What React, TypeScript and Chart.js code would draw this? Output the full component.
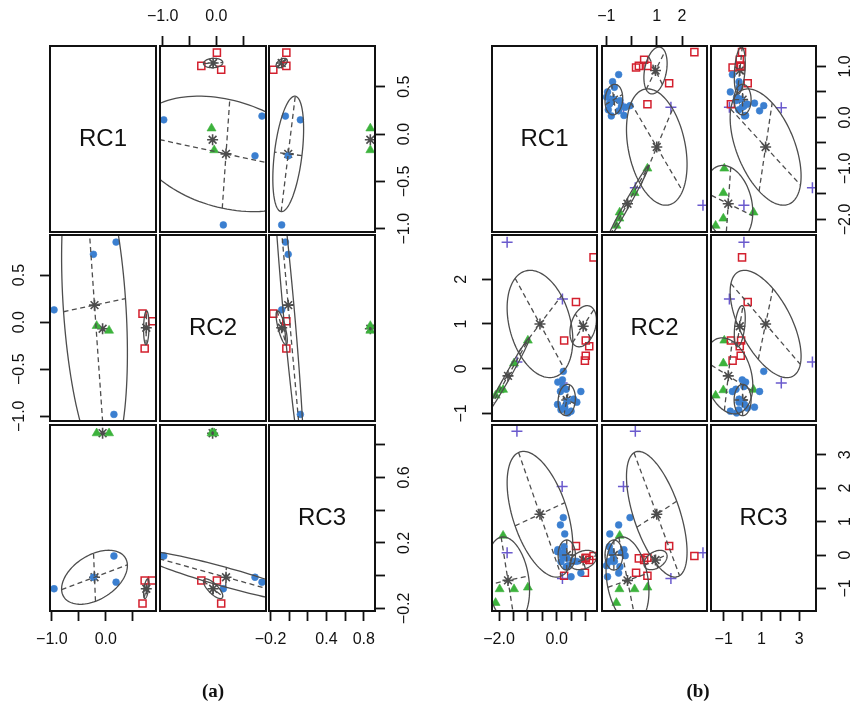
import React, { useEffect, useRef } from 'react';
import { Chart, registerables } from 'chart.js';

Chart.register(...registerables);

const FONT_FAMILY = '"Liberation Sans", Arial, Helvetica, sans-serif';
Chart.defaults.font.family = FONT_FAMILY;

const M = 40; // margin around each panel inside its canvas
const GREY = '#4d4d4d';
const INK = '#111111';
const TICK_FONT = 16;
const TICK_LEN = 10;
const LABEL_DIST_X = 29;
const LABEL_DIST_Y = 30;

const VAR_NAMES = ['RC1', 'RC2', 'RC3'];

// ---------------- Plot (a) ----------------
const A_RANGE_RC1 = [-1.035, 0.93];
const A_RANGE_RC2 = [-1.05, 0.925];
const A_RANGE_RC3 = [-0.216, 0.92];
const A_TICKS_RC1 = [-1.0, -0.5, 0.0, 0.5];
const A_TICKS_RC2 = [-1.0, -0.5, 0.0, 0.5];
const A_TICKS_RC3 = [-0.2, 0.0, 0.2, 0.4, 0.6, 0.8];
const A_XLAB_RC1 = ['−1.0', '', '0.0', ''];
const A_XLAB_RC2 = ['−1.0', '', '0.0', ''];
const A_XLAB_RC3 = ['−0.2', '', '', '0.4', '', '0.8'];
const A_YLAB_RC1 = ['−1.0', '−0.5', '0.0', '0.5'];
const A_YLAB_RC2 = ['−1.0', '−0.5', '0.0', '0.5'];
const A_YLAB_RC3 = ['−0.2', '', '0.2', '', '0.6', ''];

const A_BLUE_RC1 = [0.15, 0.19, -0.23, -0.96];
const A_BLUE_RC2 = [-0.98, 0.85, 0.72, 0.13];
const A_BLUE_RC3 = [0.12, -0.04, -0.01, -0.08];
const A_RED_RC1 = [0.86, 0.72, 0.68];
const A_RED_RC2 = [0.01, -0.28, 0.09];
const A_RED_RC3 = [-0.03, -0.03, -0.17];
const A_GREEN_RC1 = [0.06, -0.17];
const A_GREEN_RC2 = [-0.09, -0.04];
const A_GREEN_RC3 = [0.87, 0.87];

// component means / sds / correlations (r12, r13, r23)
const A_MEAN_BLUE = [-0.21, 0.18, -0.01];
const A_MEAN_RED = [0.75, -0.06, -0.08];
const A_MEAN_GREEN = [-0.06, -0.07, 0.87];
const A_SD_BLUE = [0.61, 1.7, 0.165];
const A_SD_RED = [0.05, 0.18, 0.06];
const A_SD_GREEN = [0.012, 0.012, 0.008];
const A_COR_BLUE = [-0.3, 0.43, -0.93];
const A_COR_RED = [0.1, 0.5, -0.75];
const A_COR_GREEN = [0, 0, 0];

// ---------------- Plot (b) ----------------
const B_RANGE_RC1 = [-2.245, 1.4];
const B_RANGE_RC2 = [-1.17, 2.99];
const B_RANGE_RC3 = [-1.675, 3.89];
const B_TICKS_RC1 = [-2.0, -1.5, -1.0, -0.5, 0.0, 0.5, 1.0];
const B_TICKS_RC2 = [-1, 0, 1, 2];
const B_TICKS_RC3 = [-1, 0, 1, 2, 3];
const B_XLAB_RC1 = ['−2.0', '', '', '', '0.0', '', ''];
const B_XLAB_RC2 = ['−1', '', '1', '2'];
const B_XLAB_RC3 = ['−1', '', '1', '', '3'];
const B_YLAB_RC1 = ['−2.0', '', '−1.0', '', '0.0', '', '1.0'];
const B_YLAB_RC2 = ['−1', '0', '1', '2'];
const B_YLAB_RC3 = ['−1', '0', '1', '2', '3'];

const B_BLUE_RC1 = [0.84, 0.7, 0.59, 0.4, 0.36, 0.28, 0.26, 0.13, 0.04, 0.2, 0.23, 0.22, 0.03, 0.33, 0.5, 0.15];
const B_BLUE_RC2 = [-0.51, -0.75, -0.68, -0.99, -0.73, -0.86, -0.88, -0.51, -0.3, -0.25, -0.06, -0.4, -0.8, -0.46, -0.95, -0.92];
const B_BLUE_RC3 = [-0.54, -0.19, -0.19, -0.32, -0.1, 0.63, 0.25, 0.9, 0.16, -0.02, 1.12, 0.07, 0.1, -0.35, -0.65, -0.2];
const B_RED_RC1 = [1.28, 1.13, 0.98, 1.01, 1.01, 0.67, 0.26];
const B_RED_RC2 = [2.49, 0.5, 0.18, 0.29, 0.63, 1.49, 0.63];
const B_RED_RC3 = [-0.03, -0.15, -0.53, -0.1, -0.08, 0.27, -0.62];
const B_GREEN_RC1 = [-1.0, -1.48, -1.86, -1.98, -2.12];
const B_GREEN_RC2 = [0.63, 0.12, -0.47, -0.48, -0.6];
const B_GREEN_RC3 = [-0.97, -1.02, 0.58, -1.02, -1.43];
const B_PURPLE_RC1 = [0.2, 0.19, -1.38, -1.72];
const B_PURPLE_RC2 = [1.56, -0.32, 0.15, 2.83];
const B_PURPLE_RC3 = [-0.7, 2.05, 3.7, 0.07];

const B_MEAN_BLUE = [0.35, -0.7, 0.0];
const B_MEAN_RED = [0.92, 0.95, -0.15];
const B_MEAN_GREEN = [-1.69, -0.16, -0.76];
const B_MEAN_PURPLE = [-0.58, 1.0, 1.22];
const B_SD_BLUE = [0.3, 0.35, 0.45];
const B_SD_RED = [0.46, 0.46, 0.29];
const B_SD_GREEN = [0.75, 0.85, 1.3];
const B_SD_PURPLE = [1.14, 1.2, 1.88];
const B_COR_BLUE = [0.1, 0.0, 0.0];
const B_COR_RED = [0.3, 0.3, 0.4];
const B_COR_GREEN = [0.99, -0.22, -0.25];
const B_COR_PURPLE = [-0.3, -0.5, -0.6];

// ---------------- styles ----------------
const STYLE_BLUE = { pointStyle: 'circle', radius: 3.4, color: '#3b7fd0', filled: true };
const STYLE_RED = { pointStyle: 'rect', radius: 5, color: '#d3202e', filled: false };
const STYLE_GREEN = { pointStyle: 'triangle', radius: 5.2, color: '#3cb23c', filled: true };
const STYLE_PURPLE = { pointStyle: 'cross', radius: 5.5, color: '#6a5acd', filled: false };

type Group = { rc: number[][]; mean: number[]; sd: number[]; cor: number[]; style: any };
type Matrix = {
  lefts: number[]; tops: number[]; w: number; h: number;
  ranges: number[][]; ticks: number[][]; xLabels: string[][]; yLabels: string[][];
  groups: Group[]; caption: string; captionX: number;
};

const MATRIX_A: Matrix = {
  lefts: [50, 160, 269], tops: [46, 235, 425], w: 106, h: 186,
  ranges: [A_RANGE_RC1, A_RANGE_RC2, A_RANGE_RC3],
  ticks: [A_TICKS_RC1, A_TICKS_RC2, A_TICKS_RC3],
  xLabels: [A_XLAB_RC1, A_XLAB_RC2, A_XLAB_RC3],
  yLabels: [A_YLAB_RC1, A_YLAB_RC2, A_YLAB_RC3],
  groups: [
    { rc: [A_BLUE_RC1, A_BLUE_RC2, A_BLUE_RC3], mean: A_MEAN_BLUE, sd: A_SD_BLUE, cor: A_COR_BLUE, style: STYLE_BLUE },
    { rc: [A_RED_RC1, A_RED_RC2, A_RED_RC3], mean: A_MEAN_RED, sd: A_SD_RED, cor: A_COR_RED, style: STYLE_RED },
    { rc: [A_GREEN_RC1, A_GREEN_RC2, A_GREEN_RC3], mean: A_MEAN_GREEN, sd: A_SD_GREEN, cor: A_COR_GREEN, style: STYLE_GREEN },
  ],
  caption: '(a)', captionX: 213,
};

const MATRIX_B: Matrix = {
  lefts: [492, 602, 711], tops: [46, 235, 425], w: 105, h: 186,
  ranges: [B_RANGE_RC1, B_RANGE_RC2, B_RANGE_RC3],
  ticks: [B_TICKS_RC1, B_TICKS_RC2, B_TICKS_RC3],
  xLabels: [B_XLAB_RC1, B_XLAB_RC2, B_XLAB_RC3],
  yLabels: [B_YLAB_RC1, B_YLAB_RC2, B_YLAB_RC3],
  groups: [
    { rc: [B_BLUE_RC1, B_BLUE_RC2, B_BLUE_RC3], mean: B_MEAN_BLUE, sd: B_SD_BLUE, cor: B_COR_BLUE, style: STYLE_BLUE },
    { rc: [B_RED_RC1, B_RED_RC2, B_RED_RC3], mean: B_MEAN_RED, sd: B_SD_RED, cor: B_COR_RED, style: STYLE_RED },
    { rc: [B_GREEN_RC1, B_GREEN_RC2, B_GREEN_RC3], mean: B_MEAN_GREEN, sd: B_SD_GREEN, cor: B_COR_GREEN, style: STYLE_GREEN },
    { rc: [B_PURPLE_RC1, B_PURPLE_RC2, B_PURPLE_RC3], mean: B_MEAN_PURPLE, sd: B_SD_PURPLE, cor: B_COR_PURPLE, style: STYLE_PURPLE },
  ],
  caption: '(b)', captionX: 698,
};

const MATRICES = [MATRIX_A, MATRIX_B];

function corr(g: Group, i: number, j: number) {
  if (i === j) return 1;
  const a = Math.min(i, j), b = Math.max(i, j);
  if (a === 0 && b === 1) return g.cor[0];
  if (a === 0 && b === 2) return g.cor[1];
  return g.cor[2];
}

function measureWidest(labels: string[]) {
  const ctx = document.createElement('canvas').getContext('2d');
  if (!ctx) return 0;
  ctx.font = `${TICK_FONT}px ${FONT_FAMILY}`;
  let w = 0;
  for (const l of labels) w = Math.max(w, ctx.measureText(l).width);
  return w;
}

function drawEllipses(chart: any, m: Matrix, xi: number, yi: number) {
  const ctx = chart.ctx;
  const xs = chart.scales.x;
  const ys = chart.scales.y;
  const a = chart.chartArea;
  ctx.save();
  ctx.beginPath();
  ctx.rect(a.left, a.top, a.right - a.left, a.bottom - a.top);
  ctx.clip();
  ctx.strokeStyle = GREY;
  ctx.lineWidth = 1.3;
  for (const g of m.groups) {
    const mx = g.mean[xi], my = g.mean[yi];
    const sx = g.sd[xi], sy = g.sd[yi];
    const r = corr(g, xi, yi);
    const A = sx * sx, D = sy * sy, B = r * sx * sy;
    const half = (A + D) / 2;
    const disc = Math.sqrt(((A - D) / 2) ** 2 + B * B);
    const l1 = half + disc;
    const l2 = Math.max(half - disc, 0);
    let v1x: number, v1y: number;
    if (Math.abs(B) > 1e-12) { v1x = l1 - D; v1y = B; }
    else if (A >= D) { v1x = 1; v1y = 0; }
    else { v1x = 0; v1y = 1; }
    const n = Math.hypot(v1x, v1y);
    v1x /= n; v1y /= n;
    const v2x = -v1y, v2y = v1x;
    const s1 = Math.sqrt(l1), s2 = Math.sqrt(l2);
    const P = (ux: number, uy: number) => [xs.getPixelForValue(ux), ys.getPixelForValue(uy)];

    ctx.setLineDash([]);
    ctx.beginPath();
    const N = 120;
    for (let k = 0; k <= N; k++) {
      const t = (k / N) * Math.PI * 2;
      const c = Math.cos(t), s = Math.sin(t);
      const [px, py] = P(mx + s1 * c * v1x + s2 * s * v2x, my + s1 * c * v1y + s2 * s * v2y);
      if (k === 0) ctx.moveTo(px, py); else ctx.lineTo(px, py);
    }
    ctx.stroke();

    ctx.setLineDash([5, 3.5]);
    ctx.beginPath();
    let p = P(mx - s1 * v1x, my - s1 * v1y); ctx.moveTo(p[0], p[1]);
    p = P(mx + s1 * v1x, my + s1 * v1y); ctx.lineTo(p[0], p[1]);
    p = P(mx - s2 * v2x, my - s2 * v2y); ctx.moveTo(p[0], p[1]);
    p = P(mx + s2 * v2x, my + s2 * v2y); ctx.lineTo(p[0], p[1]);
    ctx.stroke();
  }
  ctx.restore();
}

function decorPlugin(m: Matrix, row: number, col: number) {
  return {
    id: 'panelDecor',
    afterDatasetsDraw(chart: any) {
      if (row !== col) drawEllipses(chart, m, col, row);
    },
    afterDraw(chart: any) {
      const a = chart.chartArea;
      const ctx = chart.ctx;
      ctx.save();
      if (row === col) {
        ctx.fillStyle = INK;
        ctx.font = `24px ${FONT_FAMILY}`;
        ctx.textAlign = 'center';
        ctx.textBaseline = 'middle';
        ctx.fillText(VAR_NAMES[row], (a.left + a.right) / 2, (a.top + a.bottom) / 2);
      }
      ctx.strokeStyle = INK;
      ctx.lineWidth = 2;
      ctx.setLineDash([]);
      ctx.strokeRect(a.left, a.top, a.right - a.left, a.bottom - a.top);
      ctx.restore();
    },
  };
}

function buildConfig(m: Matrix, row: number, col: number): any {
  const xi = col, yi = row;
  const diag = row === col;
  const topX = row === 0 && col === 1;
  const bottomX = row === 2 && col !== 1;
  const leftY = col === 0 && row === 1;
  const rightY = col === 2 && row !== 1;
  const showX = topX || bottomX;
  const showY = leftY || rightY;
  const xPos = topX ? 'top' : 'bottom';
  const yPos = leftY ? 'left' : 'right';
  const xTicks = m.ticks[xi];
  const yTicks = m.ticks[yi];
  const xLabels = m.xLabels[xi];
  const yLabels = m.yLabels[yi];
  const xPad = Math.max(0, LABEL_DIST_X - TICK_LEN - (TICK_FONT * 1.2) / 2);
  const yPad = Math.max(0, LABEL_DIST_Y - TICK_LEN - measureWidest(yLabels) / 2);
  const tickFont = { size: TICK_FONT, family: FONT_FAMILY };

  const datasets: any[] = diag
    ? []
    : [
        ...m.groups.map((g) => ({
          data: g.rc[xi].map((v, k) => ({ x: v, y: g.rc[yi][k] })),
          showLine: false,
          pointStyle: g.style.pointStyle,
          pointRadius: g.style.radius,
          pointBackgroundColor: g.style.filled ? g.style.color : 'rgba(0,0,0,0)',
          pointBorderColor: g.style.color,
          pointBorderWidth: g.style.filled ? 0.6 : 1.5,
          clip: 0,
        })),
        {
          data: m.groups.map((g) => ({ x: g.mean[xi], y: g.mean[yi] })),
          showLine: false,
          pointStyle: 'star',
          pointRadius: 5.5,
          pointBackgroundColor: GREY,
          pointBorderColor: GREY,
          pointBorderWidth: 1.6,
          clip: 0,
        },
      ];

  return {
    type: 'scatter',
    data: { datasets },
    options: {
      animation: false,
      responsive: false,
      events: [],
      layout: { padding: 0 },
      plugins: { legend: { display: false }, tooltip: { enabled: false }, title: { display: false } },
      scales: {
        x: {
          type: 'linear', axis: 'x', position: xPos, bounds: 'data',
          min: m.ranges[xi][0], max: m.ranges[xi][1],
          afterFit: (s: any) => { s.height = M; },
          afterBuildTicks: (s: any) => { s.ticks = xTicks.map((v) => ({ value: v })); },
          ticks: {
            display: showX, autoSkip: false, maxRotation: 0, minRotation: 0,
            padding: xPad, color: INK, font: tickFont,
            callback: (_v: any, i: number) => xLabels[i] ?? '',
          },
          grid: { display: showX, drawOnChartArea: false, drawTicks: true, tickLength: TICK_LEN, tickColor: INK, tickWidth: 1.8 },
          border: { display: false },
        },
        y: {
          type: 'linear', axis: 'y', position: yPos, bounds: 'data',
          min: m.ranges[yi][0], max: m.ranges[yi][1],
          afterFit: (s: any) => { s.width = M; },
          afterBuildTicks: (s: any) => { s.ticks = yTicks.map((v) => ({ value: v })); },
          ticks: {
            display: showY, autoSkip: false, minRotation: 90, maxRotation: 90,
            crossAlign: 'center', padding: yPad, color: INK, font: tickFont,
            callback: (_v: any, i: number) => yLabels[i] ?? '',
          },
          grid: { display: showY, drawOnChartArea: false, drawTicks: true, tickLength: TICK_LEN, tickColor: INK, tickWidth: 1.8 },
          border: { display: false },
        },
        x2: {
          type: 'linear', axis: 'x', position: xPos === 'top' ? 'bottom' : 'top', min: 0, max: 1,
          afterFit: (s: any) => { s.height = M; },
          ticks: { display: false }, grid: { display: false }, border: { display: false },
        },
        y2: {
          type: 'linear', axis: 'y', position: yPos === 'left' ? 'right' : 'left', min: 0, max: 1,
          afterFit: (s: any) => { s.width = M; },
          ticks: { display: false }, grid: { display: false }, border: { display: false },
        },
      },
    },
    plugins: [decorPlugin(m, row, col)],
  };
}

function Panel({ m, row, col }: { m: Matrix; row: number; col: number }) {
  const ref = useRef<HTMLCanvasElement | null>(null);
  useEffect(() => {
    if (!ref.current) return;
    const chart = new Chart(ref.current, buildConfig(m, row, col));
    return () => chart.destroy();
  }, [m, row, col]);
  const W = m.w + 2 * M;
  const H = m.h + 2 * M;
  return (
    <canvas
      ref={ref}
      width={W}
      height={H}
      style={{ position: 'absolute', left: m.lefts[col] - M, top: m.tops[row] - M, width: W, height: H }}
    />
  );
}

export default function App() {
  const cells: any[] = [];
  MATRICES.forEach((m, mi) => {
    for (let r = 0; r < 3; r++) {
      for (let c = 0; c < 3; c++) {
        cells.push(<Panel key={`p-${mi}-${r}-${c}`} m={m} row={r} col={c} />);
      }
    }
    cells.push(
      <div
        key={`cap-${mi}`}
        style={{
          position: 'absolute', left: m.captionX - 40, width: 80, top: 680, height: 22,
          lineHeight: '22px', textAlign: 'center', color: '#111',
          font: 'bold 19px "Liberation Serif", "Times New Roman", serif',
        }}
      >
        {m.caption}
      </div>
    );
  });
  return (
    <div style={{ position: 'absolute', left: 0, top: 0, width: 853, height: 702, overflow: 'hidden', background: '#ffffff' }}>
      {cells}
    </div>
  );
}
